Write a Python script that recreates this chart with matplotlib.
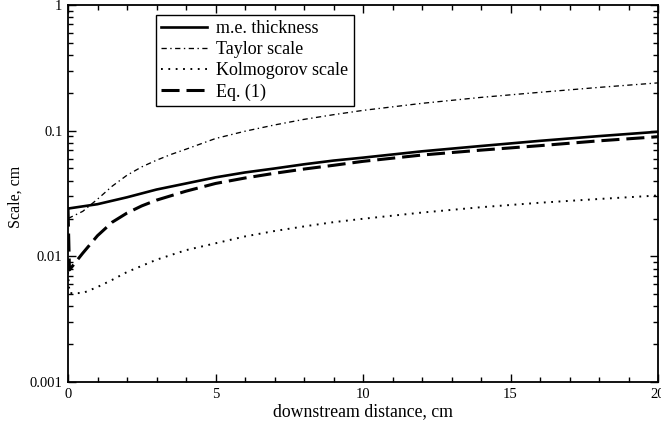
"""Length scales of the mixing layer versus downstream distance."""

from matplotlib import pyplot as plt
from matplotlib.ticker import FixedLocator, LogLocator, FuncFormatter, NullFormatter, MultipleLocator
import numpy as np

plt.rcParams['font.family'] = ['Liberation Serif', 'DejaVu Serif']
plt.rcParams['lines.scale_dashes'] = False

# downstream distance, cm
x_me = [0, 1, 2, 3, 4, 5, 6, 7, 8, 9, 10, 12, 14, 16, 18, 20]
me_thickness = [0.024, 0.026, 0.0295, 0.034, 0.038, 0.0425, 0.0465, 0.050,
                0.054, 0.0578, 0.061, 0.0685, 0.0755, 0.083, 0.0905, 0.098]

x_taylor = [0, 0.5, 1, 1.5, 2, 2.5, 3, 3.5, 4, 5, 6, 7, 8, 9, 10, 12, 14, 16, 18, 20]
taylor = [0.020, 0.0228, 0.0285, 0.0362, 0.0442, 0.0515, 0.0582, 0.0648, 0.0712,
          0.0866, 0.099, 0.111, 0.123, 0.134, 0.145, 0.165, 0.184, 0.202, 0.221,
          0.240]

x_kolm = [0, 0.05, 0.5, 1, 1.5, 2, 3, 4, 5, 6, 7, 8, 9, 10, 12, 14, 16, 18, 20]
kolmogorov = [0.0075, 0.0051, 0.0051, 0.0057, 0.0065, 0.0075, 0.0094, 0.0112,
              0.0127, 0.0144, 0.0159, 0.0173, 0.0187, 0.0199, 0.0223, 0.0246,
              0.0267, 0.0286, 0.0305]

x_eq = [0, 0.05, 0.5, 1, 1.5, 2, 2.5, 3, 4, 5, 6, 7, 8, 9, 10, 12, 14, 16, 18, 20]
eq1 = [0.024, 0.0078, 0.0106, 0.0146, 0.0187, 0.0221, 0.0252, 0.028, 0.033,
       0.038, 0.042, 0.0458, 0.0495, 0.053, 0.057, 0.064, 0.070, 0.076, 0.083,
       0.0895]

fig = plt.figure(figsize=(6.61, 4.24), dpi=100)
ax = fig.add_axes([68 / 661, 42 / 424, 590 / 661, 377 / 424])

ax.plot(x_me, me_thickness, color='black', lw=1.9, label='m.e. thickness')
ax.plot(x_taylor, taylor, color='black', lw=0.95, dashes=(3.8, 2.5, 1.0, 2.5),
        label='Taylor scale')
ax.plot(x_kolm, kolmogorov, color='black', lw=1.4, dashes=(1.3, 4.0),
        label='Kolmogorov scale')
ax.plot(x_eq, eq1, color='black', lw=2.2, dashes=(13, 5), label='Eq. (1)')

ax.set_yscale('log')
ax.set_xlim(0, 20)
ax.set_ylim(0.001, 1)

ax.xaxis.set_major_locator(MultipleLocator(5))
ax.xaxis.set_minor_locator(MultipleLocator(1))
ax.yaxis.set_major_locator(FixedLocator([0.001, 0.01, 0.1, 1]))
ax.yaxis.set_major_formatter(FuncFormatter(lambda v, p: '%g' % v))
ax.yaxis.set_minor_locator(LogLocator(base=10, subs=np.arange(2, 10)))
ax.yaxis.set_minor_formatter(NullFormatter())

ax.tick_params(which='both', direction='in', top=True, right=True,
               labelsize=10.5, width=1.0, color='black')
ax.tick_params(which='major', length=6, pad=4)
ax.tick_params(which='minor', length=3.3)
for spine in ax.spines.values():
    spine.set_linewidth(1.3)

ax.set_xlabel('downstream distance, cm', fontsize=12.75, labelpad=1.5)
ax.set_ylabel('Scale, cm', fontsize=11.5)
ax.yaxis.set_label_coords(-0.075, 0.49)

leg = ax.legend(loc='upper left', bbox_to_anchor=(156 / 661, 1 - 15 / 424),
                bbox_transform=fig.transFigure, fontsize=13, frameon=True,
                fancybox=False, edgecolor='black', framealpha=1,
                handlelength=2.5, handletextpad=0.55, labelspacing=0.22,
                borderpad=0.3, borderaxespad=0)
leg.get_frame().set_linewidth(1.0)

fig.savefig('out.png', dpi=100)
